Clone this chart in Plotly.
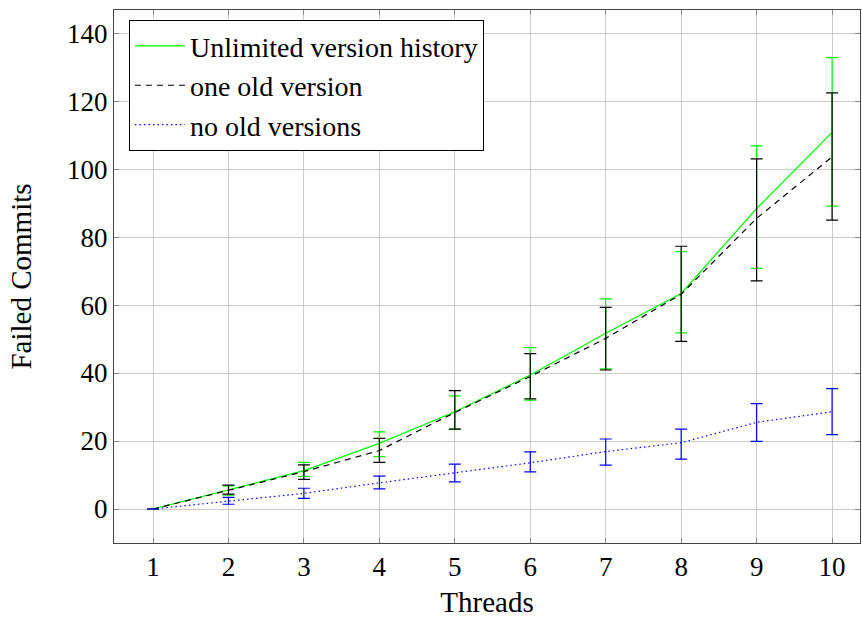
import plotly.graph_objects as go

threads = [1, 2, 3, 4, 5, 6, 7, 8, 9, 10]

unl_mean = [0, 5.6, 11.3, 19.3, 28.6, 39.4, 51.7, 63.4, 88.4, 110.8]
unl_hi = [0, 6.8, 13.7, 22.7, 33.3, 47.5, 61.8, 75.7, 106.8, 132.8]
unl_lo = [0, 4.1, 9.6, 15.4, 23.5, 32.0, 41.2, 51.8, 70.8, 89.1]

one_mean = [0, 5.5, 11.0, 17.2, 28.4, 39.0, 50.2, 63.2, 85.5, 103.6]
one_hi = [0, 7.0, 13.0, 20.8, 34.8, 45.7, 59.3, 77.3, 103.0, 122.4]
one_lo = [0, 4.4, 8.7, 13.7, 23.5, 32.4, 40.9, 49.3, 67.1, 85.0]

none_mean = [0, 2.3, 4.6, 7.7, 10.6, 13.6, 16.9, 19.5, 25.5, 28.6]
none_hi = [0, 3.4, 6.1, 9.7, 13.2, 16.8, 20.6, 23.5, 31.0, 35.4]
none_lo = [0, 1.4, 3.1, 5.9, 8.0, 10.9, 12.9, 14.7, 19.9, 21.9]

y_ticks = [0, 20, 40, 60, 80, 100, 120, 140]

font_family = "Liberation Serif"


def err(mean, hi, lo, color):
    return dict(
        type="data",
        symmetric=False,
        array=[h - m for h, m in zip(hi, mean)],
        arrayminus=[m - l for m, l in zip(mean, lo)],
        color=color,
        thickness=1.2,
        width=6,
    )


fig = go.Figure()
fig.add_trace(go.Scatter(
    x=threads, y=unl_mean, mode="lines", name="Unlimited version history",
    line=dict(color="#00ff00", width=1.2),
    error_y=err(unl_mean, unl_hi, unl_lo, "#00ff00"),
))
fig.add_trace(go.Scatter(
    x=threads, y=one_mean, mode="lines", name="one old version",
    line=dict(color="black", width=1.2, dash="6px,5px"),
    error_y=err(one_mean, one_hi, one_lo, "black"),
))
fig.add_trace(go.Scatter(
    x=threads, y=none_mean, mode="lines", name="no old versions",
    line=dict(color="#0000ff", width=1.2, dash="1.5px,3px"),
    error_y=err(none_mean, none_hi, none_lo, "#0000ff"),
))

axis_common = dict(
    showgrid=True, gridcolor="#cccccc", gridwidth=1,
    showline=True, linecolor="#444444", linewidth=1, mirror="allticks",
    ticks="inside", ticklen=5, tickcolor="#888888",
    zeroline=False,
    tickfont=dict(family=font_family, size=27, color="black"),
)

fig.update_layout(
    width=862, height=619,
    margin=dict(l=114, r=2, t=10, b=76),
    paper_bgcolor="white", plot_bgcolor="white",
    font=dict(family=font_family, size=28, color="black"),
    xaxis=dict(
        range=[0.483, 10.37], tickvals=threads,
        title=dict(text="Threads", font=dict(family=font_family, size=29), standoff=10),
        **axis_common,
    ),
    yaxis=dict(
        range=[-10, 146.8], tickvals=y_ticks,
        title=dict(text="Failed Commits", font=dict(family=font_family, size=29), standoff=26),
        **axis_common,
    ),
    legend=dict(
        x=0.02, y=0.981, xanchor="left", yanchor="top",
        bgcolor="white", bordercolor="black", borderwidth=1,
        font=dict(family=font_family, size=28),
        tracegroupgap=0, itemwidth=50,
    ),
    showlegend=True,
)

fig.write_html("out.html")
